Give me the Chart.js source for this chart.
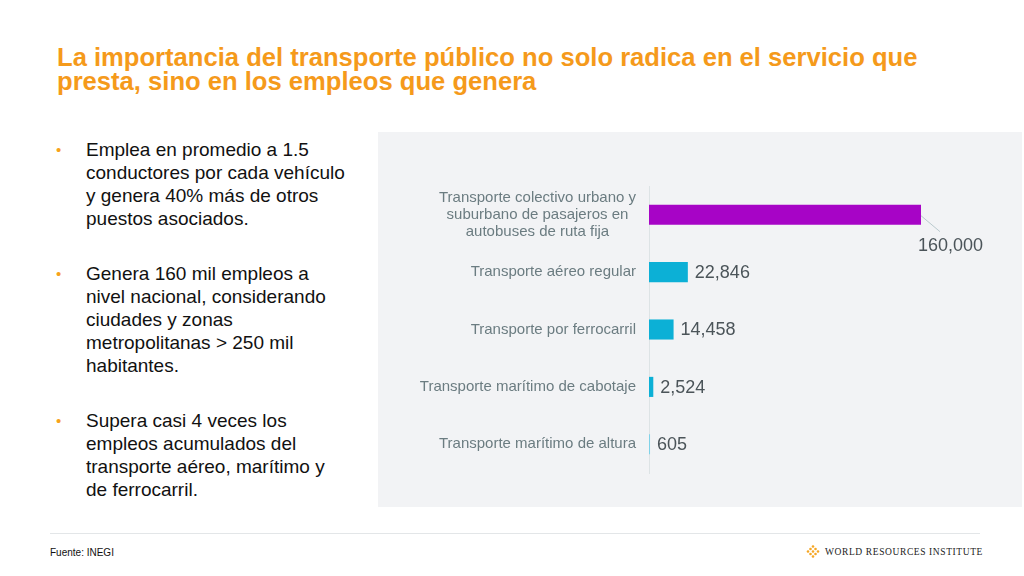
<!DOCTYPE html>
<html lang="es">
<head>
<meta charset="utf-8">
<title>Empleos en transporte</title>
<script src="https://cdn.jsdelivr.net/npm/chart.js@4/dist/chart.umd.min.js"></script>
<style>
    html, body {
        margin: 0;
        padding: 0;
        width: 1024px;
        height: 576px;
        background: #ffffff;
        overflow: hidden;
        font-family: "Liberation Sans", Arial, sans-serif;
    }
    .title {
        position: absolute;
        left: 57px;
        top: 45px;
        width: 960px;
        color: #f59a1b;
        font-weight: bold;
        font-size: 25.6px;
        line-height: 24px;
        white-space: nowrap;
    }
    .bullets {
        position: absolute;
        left: 56px;
        top: 138px;
        width: 310px;
        margin: 0;
        padding: 0;
        list-style: none;
        color: #111111;
        font-size: 19px;
        line-height: 23px;
        white-space: nowrap;
    }
    .bullets li {
        position: relative;
        padding-left: 30px;
        margin-bottom: 32px;
    }
    .bullets li::before {
        content: "\2022";
        position: absolute;
        left: 0;
        top: 0;
        color: #f7a21b;
        font-size: 15px;
    }
    .panel {
        position: absolute;
        left: 378px;
        top: 132px;
        width: 644px;
        height: 375px;
        background: #f2f3f5;
    }
    .footer-line {
        position: absolute;
        left: 50px;
        top: 533px;
        width: 930px;
        height: 1px;
        background: #e3e6e8;
    }
    .source {
        position: absolute;
        left: 50px;
        top: 547px;
        font-size: 10px;
        color: #111111;
    }
    .logo {
        position: absolute;
        left: 806px;
        top: 545px;
        font-family: "Liberation Serif", "DejaVu Serif", serif;
        font-size: 9.5px;
        letter-spacing: 0.6px;
        color: #222222;
        display: flex;
        align-items: center;
    }
    .logo svg {
        margin-right: 5px;
    }
</style>
</head>
<body>
<div class="title">La importancia del transporte público no solo radica en el servicio que<br>presta, sino en los empleos que genera</div>

<ul class="bullets">
    <li>Emplea en promedio a 1.5<br>conductores por cada vehículo<br>y genera 40% más de otros<br>puestos asociados.</li>
    <li>Genera 160 mil empleos a<br>nivel nacional, considerando<br>ciudades y zonas<br>metropolitanas &gt; 250 mil<br>habitantes.</li>
    <li>Supera casi 4 veces los<br>empleos acumulados del<br>transporte aéreo, marítimo y<br>de ferrocarril.</li>
</ul>

<div class="panel">
    <canvas id="empleosChart" width="644" height="375"></canvas>
</div>

<div class="footer-line"></div>
<div class="source">Fuente: INEGI</div>
<div class="logo">
    <svg width="14" height="14" viewBox="0 0 14 14">
        <g fill="#f5a623">
            <circle cx="7" cy="1.5" r="1.3"/>
            <circle cx="4.5" cy="4" r="1.3"/><circle cx="9.5" cy="4" r="1.3"/>
            <circle cx="2" cy="6.5" r="1.3"/><circle cx="7" cy="6.5" r="1.3"/><circle cx="12" cy="6.5" r="1.3"/>
            <circle cx="4.5" cy="9" r="1.3"/><circle cx="9.5" cy="9" r="1.3"/>
            <circle cx="7" cy="11.5" r="1.3"/>
        </g>
    </svg>
    WORLD RESOURCES INSTITUTE
</div>

<script>
// categories (multi-line labels as arrays)
const categories = [
    ['Transporte colectivo urbano y', 'suburbano de pasajeros en', 'autobuses de ruta fija'],
    'Transporte aéreo regular',
    'Transporte por ferrocarril',
    'Transporte marítimo de cabotaje',
    'Transporte marítimo de altura'
];
const empleos = [160000, 22846, 14458, 2524, 605];
const barColors = ['#a704c6', '#0cb0d6', '#0cb0d6', '#0cb0d6', '#7fd2e8'];

const labelColor = '#6b7c81';
const valueColor = '#4b5459';

// draws the category names (centered lines, right edge at the axis)
const categoryLabels = {
    id: 'categoryLabels',
    afterDraw(chart) {
        const ctx = chart.ctx;
        const yScale = chart.scales.y;
        const right = chart.chartArea.left - 13;
        const lineHeight = 17;
        ctx.save();
        ctx.font = '15px "Liberation Sans", Arial, sans-serif';
        ctx.fillStyle = labelColor;
        ctx.textBaseline = 'middle';
        ctx.textAlign = 'center';
        categories.forEach((cat, i) => {
            const lines = Array.isArray(cat) ? cat : [cat];
            const widest = Math.max(...lines.map(l => ctx.measureText(l).width));
            const cx = right - widest / 2;
            const cy = yScale.getPixelForValue(i);
            const y0 = cy - (lines.length - 1) * lineHeight / 2;
            lines.forEach((l, j) => ctx.fillText(l, cx, y0 + j * lineHeight));
        });
        ctx.restore();
    }
};

// value labels next to the bars
const valueLabels = {
    id: 'valueLabels',
    afterDatasetsDraw(chart) {
        const ctx = chart.ctx;
        const meta = chart.getDatasetMeta(0);
        ctx.save();
        ctx.font = '18px "Liberation Sans", Arial, sans-serif';
        ctx.fillStyle = valueColor;
        ctx.textBaseline = 'middle';
        meta.data.forEach((bar, i) => {
            const txt = empleos[i].toLocaleString('en-US');
            if (i === 0) {
                // callout below the long bar
                ctx.strokeStyle = '#b9c9cd';
                ctx.lineWidth = 1;
                ctx.beginPath();
                ctx.moveTo(bar.x, bar.y + 1);
                ctx.lineTo(bar.x + 19, bar.y + 17);
                ctx.stroke();
                ctx.textAlign = 'left';
                ctx.fillText(txt, bar.x - 3, bar.y + 31);
            } else {
                ctx.textAlign = 'left';
                ctx.fillText(txt, bar.x + 7, bar.y + 1);
            }
        });
        ctx.restore();
    }
};

const ctx = document.getElementById('empleosChart').getContext('2d');
const empleosChart = new Chart(ctx, {
    type: 'bar',
    data: {
        labels: categories,
        datasets: [{
            label: 'Empleos',
            data: empleos,
            backgroundColor: barColors,
            borderWidth: 0,
            categoryPercentage: 1,
            barPercentage: 0.35
        }]
    },
    options: {
        indexAxis: 'y',
        responsive: false,
        animation: false,
        layout: {
            padding: { left: 263, top: 54, bottom: 34, right: 33 }
        },
        scales: {
            x: {
                display: false,
                min: 0,
                max: 200000
            },
            y: {
                display: true,
                ticks: { display: false },
                grid: { display: false },
                border: { display: true, color: '#dde3e5', width: 1 }
            }
        },
        plugins: {
            legend: { display: false },
            tooltip: { enabled: false }
        }
    },
    plugins: [categoryLabels, valueLabels]
});
</script>
</body>
</html>
